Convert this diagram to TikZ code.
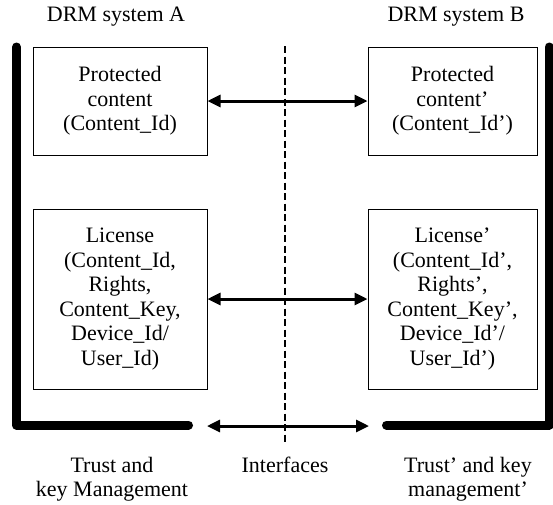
\documentclass[tikz,border=0pt]{standalone}
\usepackage{fontspec}
\setmainfont{Liberation Serif}
\usetikzlibrary{arrows.meta}
\begin{document}
\begin{tikzpicture}[x=1pt,y=-1pt,
  txt/.style={font=\fontsize{22}{24.5}\selectfont,align=center,inner sep=0pt},
  box/.style={txt,draw,line width=1pt},
  arr/.style={line width=3pt,{Triangle[length=13pt,width=12pt]}-{Triangle[length=13pt,width=12pt]}},
  bracket/.style={line width=9pt,line cap=round,line join=round},
  divider/.style={line width=2.3pt,dash pattern=on 7pt off 3.5pt}
]
\useasboundingbox (0,0) rectangle (553,504);

% boxes
\node[box,minimum width=174pt,minimum height=108pt] (A1) at (120,101) {Protected\\content\\(Content\_Id)};
\node[box,minimum width=169pt,minimum height=108pt] (B1) at (452.5,101) {Protected\\content'\\(Content\_Id')};
\node[box,minimum width=174pt,minimum height=180pt] (A2) at (120,299) {License\\(Content\_Id,\\Rights,\\Content\_Key,\\Device\_Id/\\User\_Id)};
\node[box,minimum width=169pt,minimum height=180pt] (B2) at (452.5,299) {License'\\(Content\_Id',\\Rights',\\Content\_Key',\\Device\_Id'/\\User\_Id')};

% divider
\coordinate (dtop) at (285,46);
\coordinate (dbot) at (285,442);
\draw[divider] (dtop) -- (dbot);

% brackets
\coordinate (LT) at (16.5,47);
\coordinate (LC) at (16.5,425);
\coordinate (LE) at (188.5,425);
\coordinate (RT) at (549,47);
\coordinate (RC) at (549,425);
\coordinate (RE) at (386.5,425);
\draw[bracket] (LT) -- (LC) -- (LE);
\draw[bracket] (RT) -- (RC) -- (RE);

% arrows
\draw[arr] (A1.east) -- (B1.west);
\draw[arr] (A2.east) -- (B2.west);
\coordinate (bl) at (207,426);
\coordinate (br) at (369,426);
\draw[arr] (bl) -- (br);

% labels
\node[txt,anchor=base] (la) at (116,21) {DRM system A};
\node[txt,anchor=base] (lb) at (456,21) {DRM system B};
\node[txt,anchor=base] (tk1) at (112,472) {Trust and};
\node[txt,anchor=base] (tk1b) at (112,496.5) {key Management};
\node[txt,anchor=base] (ifc) at (285,472) {Interfaces};
\node[txt,anchor=base] (tk2) at (468,472) {Trust' and key};
\node[txt,anchor=base] (tk2b) at (468,496.5) {management'};
\end{tikzpicture}
\end{document}
